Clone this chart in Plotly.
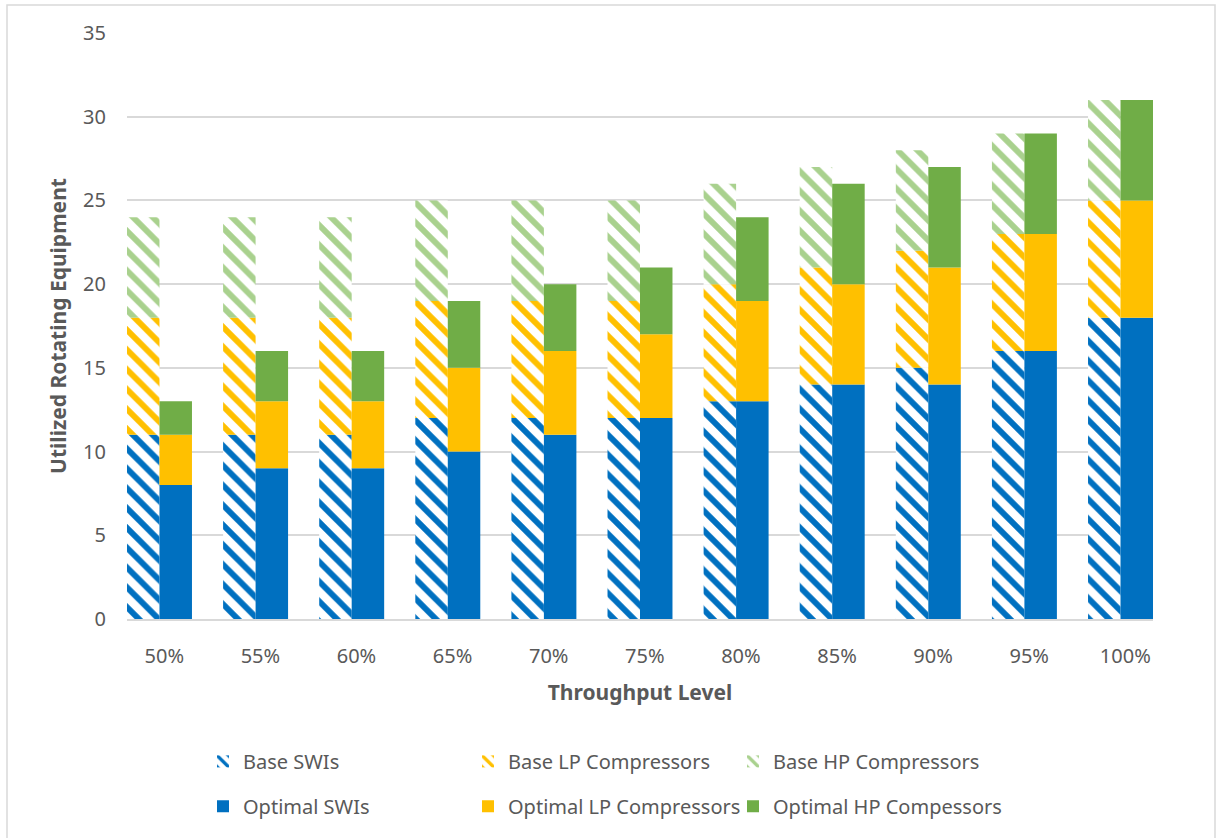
import plotly.graph_objects as go

categories = ["50%", "55%", "60%", "65%", "70%", "75%", "80%", "85%", "90%", "95%", "100%"]
base_swi = [11, 11, 11, 12, 12, 12, 13, 14, 15, 16, 18]
base_lp = [7, 7, 7, 7, 7, 7, 7, 7, 7, 7, 7]
base_hp = [6, 6, 6, 6, 6, 6, 6, 6, 6, 6, 6]
opt_swi = [8, 9, 9, 10, 11, 12, 13, 14, 14, 16, 18]
opt_lp = [3, 4, 4, 5, 5, 5, 6, 6, 7, 7, 7]
opt_hp = [2, 3, 3, 4, 4, 4, 5, 6, 6, 6, 6]

BLUE = "#0070C0"
YELLOW = "#FFC000"
GREEN = "#70AD47"
LGREEN = "#A9D18E"
TXT = "#595959"
FONT = "Noto Sans"

idx = list(range(len(categories)))
W = 0.338


def stack_bases(*series):
    bases = []
    run = [0] * len(series[0])
    for s in series:
        bases.append(list(run))
        run = [a + b for a, b in zip(run, s)]
    return bases


b_bases = stack_bases(base_swi, base_lp, base_hp)
o_bases = stack_bases(opt_swi, opt_lp, opt_hp)

fig = go.Figure()

# Plot area in pixels: left 127, right 1153, top 33, bottom 619.5
PL, PR, PT, PB = 127, 1153, 33, 619.5


def px_x(p):
    return (p - PL) / (PR - PL)


def px_y(p):
    return (PB - p) / (PB - PT)


legend_pos = {
    "legend": (248, 762),
    "legend2": (513, 762),
    "legend3": (778, 762),
    "legend4": (248, 807),
    "legend5": (513, 807),
    "legend6": (778, 807),
}

base_specs = [
    ("Base SWIs", base_swi, b_bases[0], BLUE, "legend"),
    ("Base LP Compressors", base_lp, b_bases[1], YELLOW, "legend2"),
    ("Base HP Compressors", base_hp, b_bases[2], LGREEN, "legend3"),
]
opt_specs = [
    ("Optimal SWIs", opt_swi, o_bases[0], BLUE, "legend4"),
    ("Optimal LP Compressors", opt_lp, o_bases[1], YELLOW, "legend5"),
    ("Optimal HP Compessors", opt_hp, o_bases[2], GREEN, "legend6"),
]

for name, vals, base, col, lg in base_specs:
    fig.add_trace(go.Bar(
        x=idx, y=vals, base=base, name=name, width=W, offset=-W,
        marker=dict(color="white", line=dict(width=0),
                    pattern=dict(shape="\\", fgcolor=col, bgcolor="white",
                                 fillmode="replace", size=14, solidity=0.42)),
        legend=lg,
    ))

for name, vals, base, col, lg in opt_specs:
    fig.add_trace(go.Bar(
        x=idx, y=vals, base=base, name=name, width=W, offset=0,
        marker=dict(color=col, line=dict(width=0)),
        legend=lg,
    ))

layout_legends = {}
for key, (tx, ty) in legend_pos.items():
    layout_legends[key] = dict(
        x=px_x(tx - 45), y=px_y(ty), xanchor="left", yanchor="middle",
        orientation="h", font=dict(family=FONT, size=20, color=TXT),
        bgcolor="rgba(0,0,0,0)",
    )

fig.update_layout(
    barmode="overlay",
    width=1218, height=838,
    margin=dict(l=PL, r=1218 - PR, t=PT, b=838 - PB),
    paper_bgcolor="white", plot_bgcolor="white",
    font=dict(family=FONT, size=20, color=TXT),
    showlegend=True,
    xaxis=dict(
        range=[-W, len(categories) - 1 + W],
        tickmode="array", tickvals=[i + 0.05 for i in idx], ticktext=categories,
        showgrid=False, zeroline=False,
        showline=True, linecolor="#D9D9D9", linewidth=1.5,
        ticks="", ticklabelstandoff=18,
        tickfont=dict(family=FONT, size=20, color=TXT),
        title=dict(text="<b>Throughput Level</b>", standoff=18,
                   font=dict(family=FONT, size=21, color=TXT)),
    ),
    yaxis=dict(
        range=[0, 35], tickvals=[0, 5, 10, 15, 20, 25, 30, 35],
        showgrid=True, gridcolor="#D9D9D9", gridwidth=1.5,
        zeroline=False, showline=False, ticks="", ticklabelstandoff=20,
        tickfont=dict(family=FONT, size=20, color=TXT),
        title=dict(text="<b>Utilized Rotating Equipment</b>", standoff=10,
                   font=dict(family=FONT, size=21, color=TXT)),
    ),
    **layout_legends,
)

# chart border (Excel chart area outline)
fig.add_shape(type="rect", xref="paper", yref="paper",
              x0=px_x(7), x1=px_x(1215), y0=px_y(900), y1=px_y(5),
              line=dict(color="#D9D9D9", width=1.5), fillcolor="rgba(0,0,0,0)",
              layer="below")

fig.write_html("out.html")
